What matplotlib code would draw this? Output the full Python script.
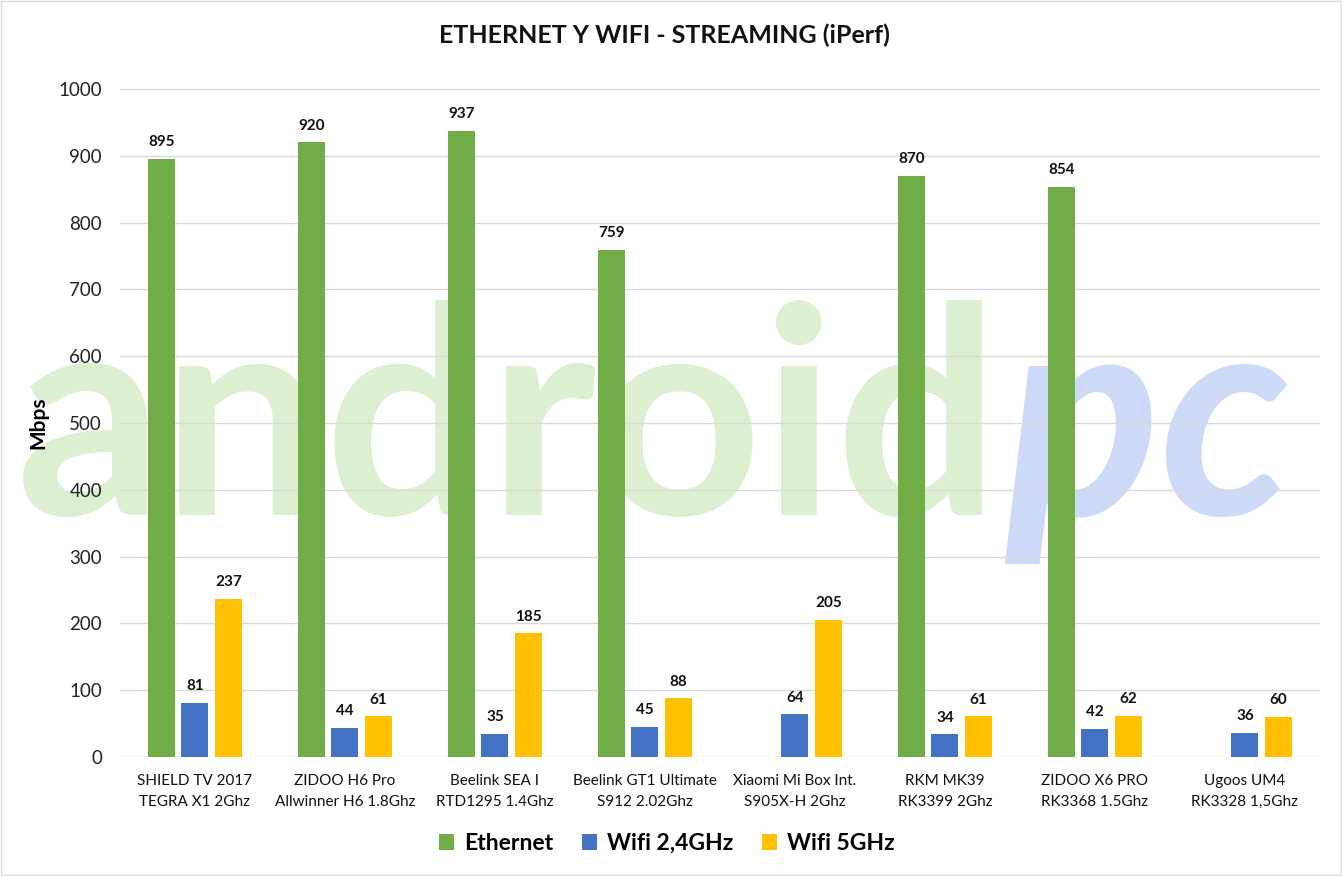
import matplotlib
matplotlib.use("Agg")
import matplotlib.pyplot as plt
import numpy as np

plt.rcParams['font.family'] = ['Lato', 'DejaVu Sans']

categories = ["SHIELD TV 2017\nTEGRA X1 2Ghz", "ZIDOO H6 Pro\nAllwinner H6 1.8Ghz",
              "Beelink SEA I\nRTD1295 1.4Ghz", "Beelink GT1 Ultimate\nS912 2.02Ghz",
              "Xiaomi Mi Box Int.\nS905X-H 2Ghz", "RKM MK39\nRK3399 2Ghz",
              "ZIDOO X6 PRO\nRK3368 1.5Ghz", "Ugoos UM4\nRK3328 1,5Ghz"]
ethernet = [895, 920, 937, 759, np.nan, 870, 854, np.nan]
wifi24 = [81, 44, 35, 45, 64, 34, 42, 36]
wifi5 = [237, 61, 185, 88, 205, 61, 62, 60]
series_names = ["Ethernet", "Wifi 2,4GHz", "Wifi 5GHz"]
colors = ["#70AD47", "#4472C4", "#FFC000"]
yticks = list(range(0, 1001, 100))

fig = plt.figure(figsize=(13.42, 8.76), dpi=100)
ax = fig.add_axes([0.0894, 0.1358, 0.8942, 0.7626])
ax.set_zorder(2)

# watermark (behind the axes)
fig.text(0.012, 0.412, "android", fontsize=208, fontweight='bold', color="#DCEFD0",
         ha='left', va='baseline', zorder=-1)
fig.text(0.748, 0.412, "pc", fontsize=208, fontweight='bold', fontstyle='italic',
         color="#CCD9F7", ha='left', va='baseline', zorder=-1)

x = np.arange(len(categories))
w = 0.18
off = 0.223
for i, (vals, name, c) in enumerate(zip([ethernet, wifi24, wifi5], series_names, colors)):
    ax.bar(x + (i - 1) * off, vals, width=w, color=c, label=name, zorder=3)
    for xi, v in zip(x + (i - 1) * off, vals):
        if not np.isnan(v):
            ax.annotate(f"{int(v)}", (xi, v), xytext=(0, 7), textcoords='offset points',
                        ha='center', va='bottom', fontsize=11, fontweight='bold', color='#111111')

ax.set_xlim(-0.5, len(categories) - 0.5)
ax.set_ylim(0, 1000)
ax.set_yticks(yticks)
ax.set_yticklabels([str(t) for t in yticks], fontsize=13.5, color='#222222')
ax.set_xticks(x)
ax.set_xticklabels(categories, fontsize=11, color='#111111', linespacing=1.65)
ax.tick_params(axis='x', length=0, pad=12)
ax.tick_params(axis='y', length=0, pad=13)
ax.grid(axis='y', color='#D9D9D9', linewidth=1, zorder=0)
for s in ax.spines.values():
    s.set_visible(False)
ax.set_facecolor('none')
ax.set_ylabel("Mbps", fontsize=15, fontweight='bold', labelpad=7)

fig.suptitle("ETHERNET Y WIFI - STREAMING (iPerf)", fontsize=18, fontweight='bold',
             y=0.973, x=0.495, color='#111111')

leg = fig.legend(loc='center', bbox_to_anchor=(0.497, 0.037), ncol=3, frameon=False,
                 fontsize=16.5, handlelength=0.65, handleheight=0.65, handletextpad=0.45,
                 columnspacing=1.25)
for t in leg.get_texts():
    t.set_fontweight('bold')

fig.patches.append(plt.Rectangle((0.001, 0.001), 0.998, 0.998, transform=fig.transFigure,
                                 fill=False, edgecolor='#D9D9D9', linewidth=1))
fig.savefig("out.png", dpi=100)
